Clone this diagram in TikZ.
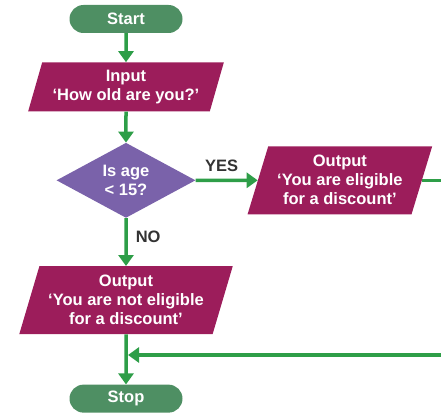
\documentclass[tikz,border=0pt]{standalone}
\usepackage{fontspec}
\setmainfont{Liberation Sans}
\usepackage{xcolor}
\definecolor{Pill Green}{HTML}{4E8F63}
\definecolor{Berry}{HTML}{9C1D5B}
\definecolor{Lavender}{HTML}{7A62AA}
\definecolor{Flow Green}{HTML}{2E9E48}
\definecolor{Label Grey}{HTML}{333333}
\colorlet{cTerm}{Pill Green}
\colorlet{cIO}{Berry}
\colorlet{cTest}{Lavender}
\colorlet{cFlow}{Flow Green}
\usepackage{tikz}
\usetikzlibrary{calc, positioning, arrows.meta, shapes.geometric}
\tikzset{
	x = 1pt,
	y = 1pt,
	font = \fontsize{16.5}{19}\selectfont\bfseries,
	terminal/.style={
		rectangle,
		rounded corners=14pt,
		fill=cTerm,
		text=white,
		minimum width=113pt,
		minimum height=28pt,
		inner sep=0pt
	},
	io/.style={
		trapezium,
		trapezium left angle=70,
		trapezium right angle=110,
		trapezium stretches=true,
		fill=cIO,
		text=white,
		align=center,
		inner sep=0pt
	},
	decision/.style={
		diamond,
		aspect=1.85,
		fill=cTest,
		text=white,
		align=center,
		minimum width=139pt,
		minimum height=75pt,
		inner sep=0pt
	},
	flow/.style={
		cFlow,
		line width=3.5pt,
		-{Triangle[length=11pt,width=15pt]}
	},
	branch/.style={
		text=Label Grey,
		inner sep=2pt
	}
}

\begin{document}
\begin{tikzpicture}
\useasboundingbox (0,0) rectangle (441,-412);
% ---
% age check flowchart
% ---
\node[terminal] at (126,-19) (start) {Start};
\node[io, below=29pt of start, minimum width=196pt, minimum height=49pt] (ask) {Input\\‘How old are you?’};
\node[decision, below=31pt of ask] (test) {Is age\\< 15?};
\node[io, right=62pt of test, minimum width=185pt, minimum height=68pt] (outyes) {Output\\‘You are eligible\\for a discount’};
\node[io, below=48pt of test, minimum width=214pt, minimum height=68pt] (outno) {Output\\‘You are not eligible\\for a discount’};
\node[terminal, below=50pt of outno] (stop) {Stop};

\coordinate (join) at (126,-355);
\coordinate (edge) at (450,-355);

\draw[flow] (start) to (ask);
\draw[flow] (ask) to (test);
\draw[flow] (test) to node[branch, above, pos=0.42, yshift=5pt] (yes) {YES} (outyes);
\draw[flow] (test) to node[branch, right, pos=0.4, xshift=6pt] (no) {NO} (outno);
\draw[flow] (outno) to (stop);
\draw[flow, shorten >=2pt] (outyes.east) -- (outyes.east -| edge) -- (edge) -- (join);
\end{tikzpicture}
\end{document}
